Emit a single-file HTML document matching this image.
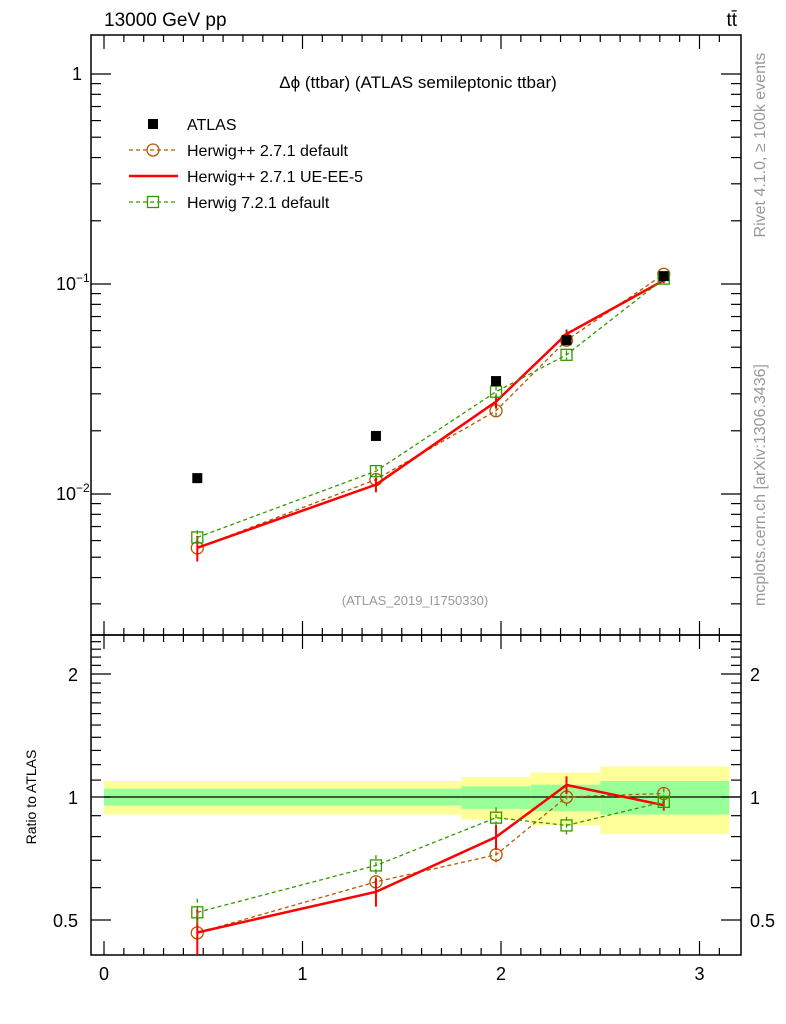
<!DOCTYPE html>
<html><head><meta charset="utf-8"><style>
body{margin:0;background:#fff}
svg{display:block;font-family:"Liberation Sans",sans-serif}
</style></head><body>
<svg id="c" width="786" height="1024" xmlns="http://www.w3.org/2000/svg"></svg>
<script>
const xVals=[0.47,1.37,1.975,2.33,2.82];
const binEdges=[0,1.8,2.15,2.5,3.15];
const atlasVals=[0.0119,0.0189,0.0345,0.054,0.109];
const bandStatUp=[1.048,1.062,1.072,1.094];
const bandStatDn=[0.953,0.935,0.923,0.906];
const bandTotUp=[1.094,1.12,1.148,1.188];
const bandTotDn=[0.906,0.88,0.852,0.813];
const ratioHpp=[0.465,0.62,0.722,1.0,1.02];
const ratioUE=[0.466,0.586,0.798,1.07,0.955];
const ratioH7=[0.522,0.68,0.89,0.852,0.973];
const errHpp=[0.10,0.07,0.06,0.05,0.03];
const errUE=[0.14,0.08,0.07,0.05,0.03];
const errH7=[0.08,0.06,0.06,0.05,0.03];
const xTicks=[0,1,2,3];
const ratioTicks=[0.5,1,2];

const svg=document.getElementById('c');
const NS='http://www.w3.org/2000/svg';
function el(t,a,p){const e=document.createElementNS(NS,t);for(const k in a)e.setAttribute(k,a[k]);(p||svg).appendChild(e);return e;}
const L=91,R=741,T=35,MB=635,B=955;
const X=v=>104+198.5*v;
const Y=v=>284-210*(Math.log10(v)+1);
const YR=v=>797-408.6*Math.log10(v);

const bands=el('g',{});


for(let i=0;i<4;i++){
  const x0=X(binEdges[i]),x1=Math.min(X(binEdges[i+1]),R);
  el('rect',{x:x0,y:YR(bandTotUp[i]),width:x1-x0,height:YR(bandTotDn[i])-YR(bandTotUp[i]),fill:'#ffff99'},bands);
  el('rect',{x:x0,y:YR(bandStatUp[i]),width:x1-x0,height:YR(bandStatDn[i])-YR(bandStatUp[i]),fill:'#99ff99'},bands);
}
el('line',{x1:X(0),x2:R,y1:YR(1),y2:YR(1),stroke:'#000','stroke-width':1.2});

const f1=el('rect',{x:L,y:T,width:R-L,height:MB-T,fill:'none',stroke:'#000','stroke-width':1.5});

const f2=el('rect',{x:L,y:MB,width:R-L,height:B-MB,fill:'none',stroke:'#000','stroke-width':1.5});


const tk=el('g',{stroke:'#000','stroke-width':1.2});
for(let v=0;v<=3.15;v+=0.1){
  const vv=Math.round(v*10)/10;const maj=Math.abs(vv-Math.round(vv))<1e-6;const len=maj?14:7;const x=X(vv);
  for(const y of [T,MB]) el('line',{x1:x,x2:x,y1:y,y2:y+len},tk);
  for(const y of [MB,B]) el('line',{x1:x,x2:x,y1:y,y2:y-len},tk);
}
for(let d=-3;d<=0;d++)for(let m=1;m<=9;m++){
  const v=m*Math.pow(10,d);const y=Y(v);if(y<T||y>MB)continue;const len=m==1?20:10;
  el('line',{x1:L,x2:L+len,y1:y,y2:y},tk);el('line',{x1:R,x2:R-len,y1:y,y2:y},tk);
}
for(let v=0.4;v<=2.5;v+=0.1){
  const vv=Math.round(v*10)/10;const y=YR(vv);if(y<MB||y>B)continue;
  const maj=ratioTicks.includes(vv);const len=maj?20:10;
  if(vv>1&&Math.abs(vv*10%2)>0.01&&vv!=1.1&&vv!=1.3&&vv!=1.5&&vv!=1.7&&vv!=1.9&&vv!=2.1&&vv!=2.3&&vv!=2.5)continue;
  el('line',{x1:L,x2:L+len,y1:y,y2:y},tk);el('line',{x1:R,x2:R-len,y1:y,y2:y},tk);
}

function txt(s,a,name){const t=el('text',a);t.textContent=s;return t;}
txt('1',{x:82,y:80,'font-size':18,'text-anchor':'end'},'y-tick-1');
const t1=txt('10',{x:56,y:290,'font-size':18},'y-tick-0.1');const s1=el('tspan',{dy:-8,'font-size':12},t1);s1.textContent='−1';
const t2=txt('10',{x:56,y:500,'font-size':18},'y-tick-0.01');const s2=el('tspan',{dy:-8,'font-size':12},t2);s2.textContent='−2';
ratioTicks.forEach(v=>{
  txt(String(v),{x:78,y:YR(v)+7,'font-size':18,'text-anchor':'end'},'ratio-tick-left');
  txt(String(v),{x:750,y:YR(v)+7,'font-size':18},'ratio-tick-right');
});
xTicks.forEach(v=>txt(String(v),{x:X(v),y:980,'font-size':18,'text-anchor':'middle'},'x-tick-label'));
txt('Ratio to ATLAS',{x:36,y:797,'font-size':14,'text-anchor':'middle',transform:'rotate(-90 36 797)'},'y-axis-title');
txt('13000 GeV pp',{x:104,y:26,'font-size':19},'energy-label');
txt('tt̄',{x:737,y:26,'font-size':19,'text-anchor':'end'},'process-label');
txt('Δϕ (ttbar) (ATLAS semileptonic ttbar)',{x:418,y:88,'font-size':17,'text-anchor':'middle'},'plot-title');
txt('(ATLAS_2019_I1750330)',{x:415,y:605,'font-size':13,'text-anchor':'middle',fill:'#999'},'analysis-id');
txt('Rivet 4.1.0, ≥ 100k events',{x:765,y:145,'font-size':16,'text-anchor':'middle',fill:'#999',transform:'rotate(-90 765 145)'},'rivet-label');
txt('mcplots.cern.ch [arXiv:1306.3436]',{x:765,y:485,'font-size':16,'text-anchor':'middle',fill:'#999',transform:'rotate(-90 765 485)'},'mcplots-label');

function marker(kind,x,y,col,g){
  if(kind=='circle')el('circle',{cx:x,cy:y,r:6,fill:'none',stroke:col,'stroke-width':1.3},g);
  else if(kind=='square')el('rect',{x:x-5.5,y:y-5.5,width:11,height:11,fill:'none',stroke:col,'stroke-width':1.3},g);
}
const lg=[['ATLAS',null,'#000',null],['Herwig++ 2.7.1 default','circle','#b35900','4,3'],['Herwig++ 2.7.1 UE-EE-5',null,'#ff0000',null],['Herwig 7.2.1 default','square','#339900','4,3']];
lg.forEach((e,i)=>{
  const y=124+26*i;const g=el('g',{});
  
  if(i==0)el('rect',{x:148,y:y-5,width:10,height:10,fill:'#000'},g);
  else{el('line',{x1:129,x2:178,y1:y,y2:y,stroke:e[2],'stroke-width':i==2?2.5:1.3,'stroke-dasharray':e[3]||'none'},g);if(e[1])marker(e[1],153,y,e[2],g);}
  const t=el('text',{x:187,y:y+6,'font-size':16},g);t.textContent=e[0];
});

const series=[['herwigpp-default',ratioHpp,errHpp,'circle','#b35900','4,3',1.3],['herwigpp-ue-ee-5',ratioUE,errUE,null,'#ff0000',null,2.5],['herwig7-default',ratioH7,errH7,'square','#339900','4,3',1.3]];
const clipM=el('clipPath',{id:'cm'});el('rect',{x:L,y:T,width:R-L,height:MB-T},clipM);
const clipR=el('clipPath',{id:'cr'});el('rect',{x:L,y:MB,width:R-L,height:B-MB},clipR);
series.forEach(s=>{
  for(const panel of ['main','ratio']){
    const g=el('g',{'clip-path':panel=='main'?'url(#cm)':'url(#cr)'});
    
    const val=i=>panel=='main'?s[1][i]*atlasVals[i]:s[1][i];
    const yf=panel=='main'?Y:YR;
    const pts=xVals.map((x,i)=>X(x)+','+yf(val(i))).join(' ');
    el('polyline',{points:pts,fill:'none',stroke:s[4],'stroke-width':s[6],'stroke-dasharray':s[5]||'none'},g);
    xVals.forEach((x,i)=>{
      const v=val(i),e=s[2][i];
      el('line',{x1:X(x),x2:X(x),y1:yf(v*(1+e)),y2:yf(v*(1-e)),stroke:s[4],'stroke-width':s[6]==2.5?2:1.3,'stroke-dasharray':s[5]||'none'},g);
      if(s[3])marker(s[3],X(x),yf(v),s[4],g);
    });
  }
});
const ag=el('g',{});
xVals.forEach((x,i)=>el('rect',{x:X(x)-5,y:Y(atlasVals[i])-5,width:10,height:10,fill:'#000'},ag));
</script>
</body></html>
